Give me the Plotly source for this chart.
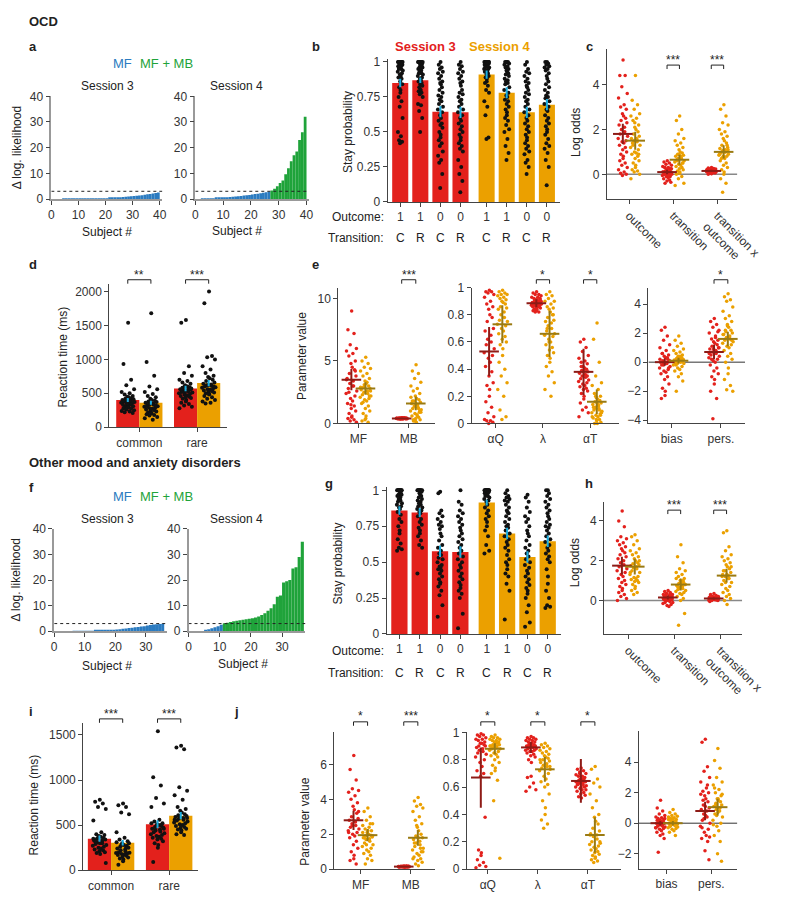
import plotly.graph_objects as go

W, H = 800, 910
RED = "#E3211C"; ORG = "#EBA000"; DRED = "#8E1B16"; DORG = "#9A7A12"
BLUE = "#2B7BC0"; GREEN = "#1FA33A"; CYAN = "#1AAEE0"
FONT = "Liberation Sans, Arial, sans-serif"
THRESH = 3

# ---------------- DATA ----------------
# a / f : delta log-likelihood per subject (sorted)
a_s3 = [0.0,0.0,0.0,0.0,0.01,0.01,0.02,0.02,0.03,0.03,0.04,0.05,0.05,0.06,0.07,0.08,0.1,0.12,0.15,0.2,
        0.25,0.3,0.38,0.45,0.55,0.65,0.75,0.85,0.95,1.05,1.15,1.25,1.4,1.5,1.65,1.8,1.95,2.1,2.3,2.5]
a_s4 = [0.0,0.0,0.02,0.05,0.1,0.15,0.2,0.3,0.4,0.5,0.6,0.7,0.8,0.9,1.0,1.1,1.2,1.35,1.5,1.6,
        1.75,1.9,2.05,2.2,2.4,2.6,2.85,3.3,4.0,5.0,6.2,7.2,9.6,12.0,14.7,17.0,18.5,23.0,26.0,32.0]
f_s3 = [0,0,0,0,0,0,0.01,0.02,0.03,0.05,0.07,0.1,0.13,0.17,0.2,0.25,0.3,0.4,0.5,0.6,0.7,0.8,0.95,
        1.1,1.25,1.4,1.55,1.7,1.85,2.0,2.2,2.4,2.6,2.75,2.85,2.95]
f_s4 = [0,0,0,0,0,0.3,0.8,1.2,1.6,2.0,2.5,3.1,3.3,3.6,3.9,4.1,4.3,4.5,4.7,4.9,5.1,5.4,5.8,6.3,7.0,
        8.0,9.0,10.5,13.5,14.0,19.0,19.5,20.0,24.5,25.0,29.0,35.0]

# b / g : stay probability
OUTCOME = [1, 1, 0, 0, 1, 1, 0, 0]
TRANSITION = ["C", "R", "C", "R", "C", "R", "C", "R"]
b_means = [0.85, 0.87, 0.645, 0.64, 0.91, 0.78, 0.64, 0.695]
b_se = [0.03, 0.02, 0.04, 0.04, 0.03, 0.04, 0.04, 0.04]
b_dots = [
    [1,1,1,1,1,1,1,1,1,1,0.99,0.99,0.98,0.98,0.97,0.97,0.96,0.95,0.95,0.94,0.93,0.92,0.91,0.9,0.89,0.88,0.86,0.84,0.82,0.8,0.78,0.75,0.72,0.68,0.6,0.5,0.47,0.44,0.43,0.42],
    [1,1,1,1,1,1,1,1,0.99,0.98,0.98,0.97,0.96,0.96,0.95,0.94,0.93,0.92,0.92,0.91,0.9,0.89,0.88,0.87,0.86,0.85,0.84,0.83,0.82,0.8,0.8,0.79,0.78,0.77,0.75,0.7,0.69,0.65,0.6,0.5],
    [1,0.98,0.96,0.95,0.93,0.92,0.9,0.88,0.86,0.85,0.84,0.82,0.8,0.78,0.76,0.75,0.73,0.72,0.7,0.68,0.66,0.64,0.62,0.6,0.58,0.56,0.55,0.53,0.5,0.48,0.46,0.44,0.42,0.4,0.36,0.33,0.3,0.28,0.2,0.1],
    [1,0.98,0.97,0.95,0.93,0.92,0.9,0.88,0.86,0.85,0.83,0.8,0.78,0.77,0.75,0.73,0.72,0.7,0.68,0.66,0.64,0.62,0.6,0.58,0.56,0.54,0.52,0.5,0.48,0.46,0.44,0.42,0.4,0.38,0.36,0.3,0.25,0.2,0.15,0.07],
    [1,1,1,1,1,1,1,1,1,1,1,1,0.99,0.99,0.98,0.98,0.97,0.97,0.96,0.96,0.95,0.95,0.94,0.93,0.93,0.92,0.91,0.9,0.89,0.88,0.86,0.85,0.83,0.8,0.78,0.72,0.68,0.62,0.46,0.45],
    [1,1,1,1,0.99,0.98,0.97,0.96,0.95,0.94,0.93,0.92,0.91,0.9,0.88,0.87,0.86,0.85,0.84,0.82,0.8,0.78,0.76,0.75,0.73,0.72,0.7,0.68,0.66,0.64,0.62,0.6,0.58,0.55,0.52,0.5,0.45,0.4,0.35,0.3],
    [1,0.98,0.95,0.93,0.92,0.9,0.88,0.86,0.85,0.83,0.82,0.8,0.78,0.77,0.75,0.73,0.72,0.7,0.68,0.66,0.64,0.62,0.6,0.58,0.56,0.54,0.52,0.5,0.48,0.46,0.44,0.42,0.4,0.38,0.36,0.34,0.3,0.28,0.25,0.2],
    [1,1,0.99,0.98,0.97,0.96,0.95,0.94,0.92,0.9,0.88,0.86,0.84,0.82,0.8,0.78,0.76,0.75,0.74,0.72,0.7,0.68,0.66,0.65,0.62,0.6,0.58,0.56,0.54,0.52,0.5,0.48,0.45,0.42,0.4,0.38,0.35,0.3,0.25,0.12],
]
g_means = [0.86, 0.845, 0.575, 0.57, 0.915, 0.70, 0.535, 0.645]
g_se = [0.03, 0.03, 0.04, 0.04, 0.02, 0.04, 0.04, 0.04]
g_dots = [
    [1,1,1,1,1,1,1,1,1,1,0.99,0.98,0.97,0.97,0.96,0.95,0.94,0.93,0.92,0.91,0.9,0.89,0.88,0.87,0.85,0.83,0.8,0.78,0.75,0.72,0.7,0.66,0.63,0.6,0.59,0.58],
    [1,1,1,1,1,1,1,1,0.99,0.98,0.97,0.96,0.95,0.94,0.93,0.92,0.91,0.9,0.89,0.88,0.87,0.86,0.85,0.84,0.82,0.8,0.78,0.76,0.74,0.72,0.7,0.68,0.65,0.62,0.6,0.42],
    [0.99,0.98,0.86,0.84,0.82,0.8,0.78,0.76,0.75,0.73,0.7,0.68,0.65,0.62,0.6,0.58,0.56,0.55,0.53,0.52,0.5,0.48,0.47,0.46,0.45,0.44,0.42,0.4,0.38,0.36,0.35,0.33,0.3,0.27,0.2,0.12],
    [1,0.92,0.9,0.86,0.84,0.82,0.8,0.78,0.76,0.74,0.72,0.7,0.68,0.66,0.64,0.62,0.6,0.58,0.56,0.54,0.52,0.5,0.48,0.46,0.44,0.42,0.4,0.38,0.36,0.34,0.32,0.3,0.28,0.25,0.14,0.04],
    [1,1,1,1,1,1,1,1,1,1,1,1,0.99,0.99,0.98,0.98,0.97,0.96,0.96,0.95,0.94,0.93,0.92,0.9,0.88,0.86,0.84,0.82,0.8,0.78,0.75,0.72,0.68,0.62,0.58,0.56],
    [1,0.98,0.96,0.95,0.94,0.93,0.92,0.9,0.88,0.86,0.85,0.84,0.82,0.8,0.78,0.76,0.75,0.74,0.72,0.7,0.68,0.66,0.64,0.62,0.6,0.58,0.55,0.52,0.5,0.48,0.45,0.42,0.4,0.35,0.3,0.1],
    [0.97,0.95,0.92,0.88,0.85,0.82,0.8,0.78,0.75,0.72,0.7,0.68,0.65,0.62,0.6,0.58,0.56,0.54,0.52,0.5,0.48,0.46,0.44,0.42,0.4,0.38,0.36,0.34,0.32,0.3,0.28,0.25,0.2,0.15,0.08,0.05],
    [1,1,0.98,0.96,0.94,0.92,0.9,0.88,0.86,0.84,0.82,0.8,0.78,0.76,0.75,0.74,0.72,0.7,0.68,0.66,0.64,0.62,0.6,0.58,0.56,0.54,0.52,0.5,0.45,0.4,0.35,0.3,0.25,0.2,0.19,0.18],
]

# c / h : log odds
LO_LABELS = ["outcome", "transition", "transition x<br>outcome"]
c_s3 = [
    [5.1,4.4,4.4,3.9,3.6,3.4,3.1,3.0,2.9,2.7,2.6,2.5,2.4,2.3,2.2,2.1,2.0,1.9,1.8,1.7,1.6,1.5,1.45,1.4,1.3,1.2,1.1,1.0,0.9,0.8,0.7,0.6,0.5,0.4,0.3,0.2,0.1,0.05,0.0,-0.05],
    [0.6,0.55,0.5,0.45,0.4,0.35,0.3,0.3,0.25,0.2,0.2,0.15,0.15,0.1,0.1,0.1,0.05,0.05,0.0,0.0,-0.05,-0.1,-0.1,-0.15,-0.2,-0.25,-0.3,-0.35,-0.4,0.2,0.1,0.0,0.15,0.05,0.25,0.1,-0.05,0.3,0.0,0.1],
    [0.3,0.28,0.26,0.25,0.24,0.22,0.2,0.2,0.19,0.18,0.18,0.17,0.16,0.16,0.15,0.15,0.14,0.14,0.13,0.12,0.12,0.11,0.1,0.1,0.09,0.08,0.07,0.06,0.05,0.04,0.02,0.0,0.15,0.2,0.1,0.18,0.12,0.16,0.14,0.22],
]
c_s4 = [
    [4.4,3.3,3.1,2.9,2.7,2.6,2.5,2.4,2.2,2.1,2.0,1.9,1.8,1.7,1.6,1.55,1.5,1.45,1.4,1.3,1.2,1.1,1.0,0.95,0.9,0.8,0.7,0.6,0.5,0.4,0.3,0.2,0.15,0.1,0.0,-0.2,1.6,1.3,0.9,2.3],
    [2.6,2.4,2.0,1.8,1.6,1.5,1.4,1.3,1.2,1.1,1.0,0.95,0.9,0.85,0.8,0.75,0.7,0.7,0.65,0.6,0.55,0.5,0.45,0.4,0.35,0.3,0.25,0.2,0.15,0.1,0.05,0.0,-0.1,-0.2,-0.4,-0.5,0.8,0.6,0.5,0.9],
    [3.1,2.9,2.6,2.3,2.2,2.0,1.9,1.8,1.7,1.6,1.5,1.4,1.3,1.2,1.15,1.1,1.05,1.0,0.95,0.9,0.85,0.8,0.75,0.7,0.6,0.5,0.4,0.3,0.2,0.1,0.0,-0.2,-0.4,-0.8,1.1,0.9,1.0,0.7,1.3,0.8],
]
c_m3 = [1.8, 0.1, 0.15]; c_e3 = [0.45, 0.1, 0.05]
c_m4 = [1.5, 0.65, 1.0]; c_e4 = [0.4, 0.22, 0.3]
h_s3 = [
    [4.5,4.0,3.7,3.2,3.1,3.0,2.9,2.8,2.7,2.6,2.5,2.4,2.3,2.2,2.1,2.0,1.9,1.8,1.7,1.6,1.5,1.4,1.3,1.2,1.1,1.0,0.9,0.8,0.7,0.6,0.5,0.4,0.3,0.2,0.1,0.0],
    [0.5,0.45,0.4,0.35,0.3,0.3,0.25,0.2,0.2,0.15,0.15,0.1,0.1,0.05,0.05,0.0,0.0,-0.05,-0.1,-0.1,-0.15,-0.2,-0.25,-0.3,0.2,0.1,0.15,0.25,0.3,0.05,0.1,0.2,0.35,0.0,0.15,0.1],
    [0.35,0.3,0.25,0.2,0.2,0.15,0.15,0.1,0.1,0.1,0.05,0.05,0.0,0.0,-0.05,0.1,0.15,0.2,0.05,0.1,0.0,0.15,0.1,0.05,0.2,0.1,0.12,0.08,0.18,0.06,0.1,0.14,0.02,0.1,0.16,0.04],
]
h_s4 = [
    [3.3,3.2,3.0,2.8,2.6,2.5,2.4,2.3,2.2,2.1,2.0,1.9,1.85,1.8,1.75,1.7,1.65,1.6,1.5,1.4,1.3,1.2,1.15,1.1,1.05,1.0,0.95,0.9,0.8,0.7,0.6,0.5,0.4,0.3,2.0,1.4],
    [2.8,2.2,1.9,1.6,1.5,1.4,1.3,1.2,1.1,1.0,0.95,0.9,0.85,0.8,0.75,0.7,0.65,0.6,0.55,0.5,0.45,0.4,0.35,0.3,0.2,0.1,0.0,-0.65,-1.25,0.8,0.9,0.7,1.0,0.6,0.8,1.1],
    [3.5,3.4,2.7,2.5,2.3,2.2,2.1,2.0,1.9,1.8,1.7,1.6,1.5,1.4,1.3,1.25,1.2,1.1,1.0,0.9,0.8,0.7,0.6,0.5,0.4,0.3,0.2,0.1,0.0,-0.2,1.3,1.5,1.1,0.9,1.7,1.2],
]
h_m3 = [1.75, 0.15, 0.1]; h_e3 = [0.45, 0.1, 0.05]
h_m4 = [1.7, 0.8, 1.25]; h_e4 = [0.4, 0.3, 0.35]

# d / i : reaction times
RT_LABELS = ["common", "rare"]
d_means = [400, 360, 570, 650]; d_se = [30, 30, 40, 45]
d_dots = [
    [1540,930,700,620,560,520,500,480,460,450,440,430,420,410,400,400,390,380,380,370,360,360,350,340,330,330,320,310,300,300,290,280,270,260,250,240,230,220,210,350],
    [1680,960,760,600,560,520,490,460,440,420,400,390,380,370,360,350,340,330,320,310,300,290,280,270,260,250,240,230,220,210,200,190,180,170,150,130,110,300,320,340],
    [1580,1540,900,800,760,700,680,660,640,620,600,590,580,570,560,550,540,530,520,510,500,490,480,470,460,450,440,430,420,400,380,360,340,320,300,280,600,580,560,520],
    [2000,1830,1050,1030,1000,900,850,800,760,740,720,700,680,660,640,630,620,610,600,590,580,570,560,550,540,530,520,510,500,490,480,460,440,420,400,380,360,350,600,620],
]
i_means = [350, 305, 510, 605]; i_se = [35, 30, 45, 40]
i_dots = [
    [780,760,740,700,680,550,420,400,390,380,370,360,350,340,330,320,310,300,290,280,270,260,250,240,230,220,210,200,190,180,300,320,340,360,80,350],
    [740,720,700,640,620,420,360,340,320,300,280,270,260,250,240,230,220,210,200,195,190,185,180,175,170,160,150,140,130,120,100,60,250,280,300,310],
    [1540,1030,940,800,740,700,560,540,520,510,500,490,480,470,460,450,440,430,420,410,400,390,380,370,360,350,340,320,300,280,250,90,500,480,460,520],
    [1380,1360,1340,920,880,830,780,700,680,660,640,620,610,600,590,580,570,560,550,540,530,520,510,500,490,480,470,460,450,440,420,400,390,600,580,560],
]

# e / j : model parameters
P1_LABELS = ["MF", "MB"]
P2_LABELS = ["αQ", "λ", "αT"]
P3_LABELS = ["bias", "pers."]
e_MF_s3 = [9.0,7.5,7.2,6.3,6.0,5.8,5.6,5.4,5.0,4.8,4.5,4.3,4.0,3.8,3.6,3.4,3.2,3.0,2.8,2.6,2.4,2.2,2.0,1.8,1.6,1.4,1.2,1.0,0.8,0.6,0.5,0.4,0.3,0.2,0.1,3.5,3.0,2.5,4.2,1.5]
e_MF_s4 = [5.3,5.0,4.8,4.5,4.4,4.2,4.0,3.8,3.6,3.4,3.2,3.0,2.9,2.8,2.7,2.6,2.5,2.4,2.3,2.2,2.1,2.0,1.9,1.8,1.6,1.4,1.2,1.0,0.8,0.6,0.4,0.2,0.1,3.1,2.6,2.9,3.3,1.7,2.2,0.3]
e_MB_s3 = [0.45,0.42,0.4,0.38,0.41,0.39,0.43,0.37,0.4,0.44,0.36,0.41,0.38,0.42,0.4,0.39,0.43,0.41,0.4,0.38,0.42,0.4,0.39,0.41,0.37,0.43,0.4,0.38,0.42,0.41,0.39,0.4,0.44,0.36,0.4,0.41,0.38,0.42,0.39,0.4]
e_MB_s4 = [4.7,4.2,4.0,3.6,3.3,3.0,2.8,2.6,2.4,2.2,2.0,1.9,1.8,1.7,1.6,1.5,1.4,1.3,1.2,1.1,1.0,0.9,0.8,0.7,0.6,0.5,0.4,0.3,0.2,0.1,1.6,1.8,1.2,1.4,0.9,2.1,0.6,0.3,1.0,0.2]
e_aQ_s3 = [0.98,0.97,0.97,0.96,0.95,0.93,0.9,0.88,0.86,0.84,0.8,0.78,0.75,0.7,0.68,0.65,0.62,0.6,0.58,0.55,0.52,0.5,0.48,0.45,0.42,0.38,0.35,0.3,0.28,0.25,0.2,0.16,0.12,0.08,0.05,0.03,0.02,0.02,0.01,0.0]
e_aQ_s4 = [0.98,0.97,0.96,0.95,0.95,0.94,0.93,0.92,0.91,0.9,0.89,0.88,0.86,0.85,0.84,0.82,0.8,0.78,0.76,0.75,0.73,0.72,0.7,0.68,0.66,0.64,0.62,0.6,0.58,0.55,0.5,0.45,0.4,0.35,0.3,0.25,0.2,0.1,0.05,0.03]
e_lam_s3 = [0.97,0.96,0.95,0.95,0.94,0.93,0.93,0.92,0.92,0.91,0.91,0.9,0.9,0.9,0.89,0.89,0.89,0.88,0.88,0.88,0.87,0.87,0.87,0.86,0.86,0.86,0.85,0.85,0.84,0.84,0.83,0.83,0.82,0.82,0.9,0.88,0.89,0.87,0.91,0.86]
e_lam_s4 = [0.97,0.95,0.94,0.92,0.9,0.9,0.88,0.86,0.85,0.84,0.82,0.8,0.78,0.76,0.75,0.74,0.72,0.7,0.68,0.66,0.65,0.64,0.62,0.6,0.58,0.56,0.54,0.52,0.5,0.48,0.45,0.42,0.38,0.35,0.3,0.25,0.2,0.7,0.8,0.6]
e_aT_s3 = [0.62,0.6,0.56,0.53,0.5,0.48,0.46,0.45,0.44,0.42,0.41,0.4,0.39,0.38,0.37,0.36,0.35,0.34,0.33,0.32,0.31,0.3,0.29,0.28,0.27,0.26,0.25,0.24,0.22,0.2,0.18,0.15,0.12,0.1,0.08,0.05,0.4,0.42,0.35,0.38]
e_aT_s4 = [0.74,0.62,0.45,0.35,0.3,0.28,0.25,0.22,0.2,0.19,0.18,0.17,0.16,0.15,0.14,0.13,0.12,0.11,0.1,0.09,0.08,0.07,0.06,0.05,0.04,0.03,0.02,0.01,0.0,0.0,0.15,0.12,0.1,0.2,0.08,0.05,0.14,0.11,0.06,0.03]
e_bias_s3 = [2.4,2.2,1.8,1.5,1.2,1.0,0.8,0.6,0.5,0.4,0.3,0.2,0.1,0.05,0.0,0.0,-0.05,-0.1,-0.2,-0.3,-0.4,-0.5,-0.6,-0.7,-0.8,-1.0,-1.2,-1.5,-1.8,-2.0,-2.3,-2.5,0.3,-0.2,0.1,0.2,-0.1,0.6,-0.4,0.0]
e_bias_s4 = [1.8,1.5,1.3,1.1,0.9,0.8,0.7,0.6,0.5,0.4,0.35,0.3,0.25,0.2,0.15,0.1,0.05,0.0,-0.05,-0.1,-0.2,-0.3,-0.4,-0.5,-0.6,-0.8,-1.0,-1.3,-2.0,0.1,0.2,0.0,0.3,-0.1,0.15,0.05,0.4,-0.2,0.1,0.25]
e_pers_s3 = [3.0,2.8,2.6,2.4,2.2,2.0,1.8,1.6,1.5,1.4,1.3,1.2,1.1,1.0,0.9,0.8,0.7,0.6,0.5,0.4,0.3,0.2,0.1,0.0,-0.2,-0.4,-0.6,-0.8,-1.0,-1.2,-1.5,-2.0,-2.5,-3.9,1.0,0.6,1.7,0.2,2.1,0.9]
e_pers_s4 = [4.7,4.5,4.3,4.2,3.8,3.5,3.2,3.0,2.8,2.6,2.4,2.2,2.1,2.0,1.9,1.8,1.7,1.6,1.5,1.4,1.3,1.2,1.1,1.0,0.8,0.6,0.4,0.2,0.0,-0.4,-0.8,-1.2,-1.6,-1.9,-2.0,1.9,1.7,2.2,1.5,2.5]
e1_m3 = [3.5, 0.4]; e1_e3 = [0.85, 0.05]; e1_m4 = [2.8, 1.6]; e1_e4 = [0.5, 0.55]
e2_m3 = [0.53, 0.885, 0.38]; e2_e3 = [0.18, 0.03, 0.17]; e2_m4 = [0.73, 0.66, 0.16]; e2_e4 = [0.14, 0.17, 0.09]
e3_m3 = [0.0, 0.7]; e3_e3 = [0.25, 0.5]; e3_m4 = [0.1, 1.6]; e3_e4 = [0.2, 0.5]

j_MF_s3 = [6.5,5.7,5.1,4.6,4.5,4.4,4.2,4.0,3.8,3.6,3.4,3.2,3.0,2.9,2.8,2.7,2.6,2.5,2.4,2.3,2.2,2.1,2.0,1.9,1.8,1.6,1.4,1.2,1.0,0.8,0.6,0.5,0.3,2.5,3.3,2.1]
j_MF_s4 = [3.5,3.3,3.0,2.8,2.6,2.5,2.4,2.3,2.2,2.1,2.0,1.95,1.9,1.85,1.8,1.75,1.7,1.6,1.5,1.4,1.3,1.2,1.1,1.0,0.9,0.8,0.6,0.5,0.3,2.0,2.2,1.8,2.6,1.4,1.9,2.1]
j_MB_s3 = [0.18,0.16,0.15,0.14,0.17,0.13,0.15,0.16,0.14,0.15,0.12,0.18,0.15,0.16,0.14,0.13,0.17,0.15,0.16,0.14,0.15,0.13,0.16,0.17,0.14,0.15,0.16,0.15,0.14,0.13,0.15,0.16,0.17,0.14,0.15,0.16]
j_MB_s4 = [4.1,3.9,3.7,3.6,3.5,3.3,3.0,2.8,2.6,2.4,2.2,2.0,1.9,1.8,1.7,1.6,1.5,1.4,1.3,1.2,1.1,1.0,0.9,0.8,0.7,0.6,0.5,0.4,0.3,0.2,1.8,1.5,1.2,2.5,1.0,0.6]
j_aQ_s3 = [0.99,0.98,0.98,0.97,0.96,0.95,0.95,0.94,0.93,0.92,0.92,0.91,0.9,0.9,0.89,0.88,0.87,0.86,0.85,0.84,0.82,0.8,0.78,0.75,0.72,0.7,0.68,0.38,0.14,0.12,0.1,0.07,0.05,0.03,0.02,0.01]
j_aQ_s4 = [0.98,0.97,0.96,0.96,0.95,0.95,0.94,0.94,0.93,0.93,0.92,0.92,0.91,0.91,0.9,0.9,0.89,0.89,0.88,0.88,0.87,0.86,0.85,0.84,0.83,0.82,0.8,0.78,0.76,0.74,0.72,0.7,0.65,0.5,0.08,0.9]
j_lam_s3 = [0.97,0.96,0.96,0.95,0.95,0.94,0.94,0.93,0.93,0.92,0.92,0.91,0.91,0.9,0.9,0.9,0.89,0.89,0.88,0.88,0.87,0.87,0.86,0.86,0.85,0.84,0.83,0.82,0.8,0.78,0.68,0.67,0.63,0.6,0.58,0.57]
j_lam_s4 = [0.92,0.91,0.9,0.89,0.88,0.87,0.86,0.85,0.84,0.83,0.82,0.81,0.8,0.79,0.78,0.77,0.76,0.75,0.74,0.73,0.72,0.7,0.68,0.66,0.64,0.62,0.6,0.55,0.5,0.45,0.4,0.36,0.33,0.3,0.75,0.8]
j_aT_s3 = [0.74,0.73,0.72,0.71,0.7,0.69,0.68,0.68,0.67,0.66,0.66,0.65,0.65,0.64,0.64,0.63,0.63,0.62,0.62,0.61,0.6,0.6,0.59,0.58,0.57,0.56,0.55,0.54,0.53,0.52,0.6,0.62,0.66,0.7,0.58,0.64]
j_aT_s4 = [0.75,0.73,0.66,0.63,0.6,0.55,0.5,0.45,0.4,0.38,0.35,0.33,0.3,0.28,0.26,0.25,0.24,0.22,0.2,0.19,0.18,0.17,0.16,0.15,0.14,0.13,0.12,0.11,0.1,0.09,0.08,0.07,0.06,0.05,0.2,0.25]
j_bias_s3 = [1.5,1.0,0.8,0.6,0.5,0.4,0.35,0.3,0.25,0.2,0.15,0.1,0.05,0.0,0.0,-0.05,-0.1,-0.15,-0.2,-0.25,-0.3,-0.35,-0.4,-0.5,-0.6,-0.7,-0.8,-1.0,-1.9,0.1,-0.1,0.2,-0.2,0.0,0.3,-0.3]
j_bias_s4 = [0.9,0.7,0.6,0.5,0.45,0.4,0.35,0.3,0.25,0.2,0.15,0.1,0.05,0.0,0.0,-0.05,-0.1,-0.15,-0.2,-0.25,-0.3,-0.35,-0.4,-0.5,-0.6,-0.8,0.1,-0.1,0.2,0.0,0.3,-0.2,0.05,0.15,-0.05,0.25]
j_pers_s3 = [5.5,5.3,3.7,3.4,3.0,2.7,2.3,2.1,2.0,1.8,1.6,1.4,1.2,1.0,0.9,0.8,0.6,0.4,0.2,0.0,-0.2,-0.4,-0.6,-0.8,-1.0,-1.2,-1.8,-2.4,1.5,0.5,1.1,-0.3,2.5,0.3,-0.9,1.9]
j_pers_s4 = [4.9,4.1,3.6,3.0,2.7,2.5,2.2,2.0,1.8,1.6,1.5,1.4,1.3,1.2,1.1,1.0,0.9,0.8,0.6,0.4,0.2,0.0,-0.2,-0.5,-0.8,-1.2,-2.0,-2.5,1.2,1.6,0.7,2.3,1.0,0.5,1.9,-0.1]
j1_m3 = [2.8, 0.15]; j1_e3 = [0.55, 0.02]; j1_m4 = [1.95, 1.8]; j1_e4 = [0.35, 0.45]
j2_m3 = [0.67, 0.89, 0.645]; j2_e3 = [0.22, 0.04, 0.16]; j2_m4 = [0.88, 0.73, 0.25]; j2_e4 = [0.04, 0.09, 0.13]
j3_m3 = [0.0, 0.8]; j3_e3 = [0.15, 0.6]; j3_m4 = [0.0, 1.05]; j3_e4 = [0.15, 0.55]

# ---------------- HELPERS ----------------
fig = go.Figure()
lay = {}
annots = []
shapes = []
count = [0]
JIT = [0.05,-0.62,0.48,-0.21,0.91,-0.88,0.27,-0.45,0.71,-0.08,0.15,0.58,-0.36,0.83,-0.77,
       0.35,-0.28,0.4,-0.55,0.98,-0.95,0.64,-0.15,0.22,-0.69,0.52,-0.02,0.78,-0.41,0.1]


def X(px):
    return px / W


def Y(py):
    return 1 - py / H


def axes(x0, x1, ytop, ybot, xr, yr, xkw=None, ykw=None):
    count[0] += 1
    n = count[0]
    s = '' if n == 1 else str(n)
    base = dict(showline=True, linecolor='#444', linewidth=1, ticks='outside', ticklen=4,
                tickcolor='#444', showgrid=False, zeroline=False,
                tickfont=dict(size=12, color='#333', family=FONT), fixedrange=True)
    xa = dict(base, domain=[X(x0), X(x1)], range=xr, anchor='y' + s)
    ya = dict(base, domain=[Y(ybot), Y(ytop)], range=yr, anchor='x' + s)
    if xkw:
        xa.update(xkw)
    if ykw:
        ya.update(ykw)
    lay['xaxis' + s] = xa
    lay['yaxis' + s] = ya
    return 'x' + s, 'y' + s


def ann(x, y, text, size=12, color='#222', bold=False, xanchor='center', angle=0, xref='paper'):
    t = '<b>%s</b>' % text if bold else text
    annots.append(dict(x=x if xref != 'paper' else X(x), y=Y(y), xref=xref, yref='paper', text=t,
                       showarrow=False, xanchor=xanchor, yanchor='middle', textangle=angle,
                       font=dict(size=size, color=color, family=FONT)))


def dots(xa, ya, center, vals, color, spread, size):
    xs = [center + spread * JIT[i % len(JIT)] for i in range(len(vals))]
    fig.add_trace(go.Scatter(x=xs, y=vals, mode='markers',
                             marker=dict(color=color, size=size, line=dict(width=0)),
                             xaxis=xa, yaxis=ya, showlegend=False, hoverinfo='skip', cliponaxis=False))


def cross(xa, ya, x, m, e, color):
    fig.add_trace(go.Scatter(x=[x], y=[m], mode='markers',
                             marker=dict(symbol='line-ew', size=14, color=color, line=dict(color=color, width=2)),
                             error_y=dict(type='data', array=[e], color=color, thickness=2, width=0),
                             xaxis=xa, yaxis=ya, showlegend=False, hoverinfo='skip', cliponaxis=False))


def stars(xa, xl, xr, text, ystar, ytop, ybot):
    annots.append(dict(x=(xl + xr) / 2, y=Y(ystar), xref=xa, yref='paper', text=text, showarrow=False,
                       xanchor='center', yanchor='middle',
                       font=dict(size=12, color='#222', family=FONT)))
    shapes.append(dict(type='path', xref=xa, yref='paper',
                       path='M %f,%f L %f,%f L %f,%f L %f,%f' % (xl, Y(ybot), xl, Y(ytop), xr, Y(ytop), xr, Y(ybot)),
                       line=dict(color='#222', width=1)))


def hline(xa, ya, xr, y, color, width):
    fig.add_trace(go.Scatter(x=xr, y=[y, y], mode='lines', line=dict(color=color, width=width),
                             xaxis=xa, yaxis=ya, showlegend=False, hoverinfo='skip'))


def dll_panel(x0, x1, ytop, ybot, vals, xmax):
    gk = dict(linecolor='#999', linewidth=1.5)
    xa, ya = axes(x0, x1, ytop, ybot, [0, xmax], [0, 40],
                  dict(gk, tickvals=[0, 10, 20, 30, 40] if xmax > 40 else [0, 10, 20, 30]),
                  dict(gk, tickvals=[0, 10, 20, 30, 40]))
    xs = [i + 0.5 for i in range(len(vals))]
    cols = [GREEN if v > THRESH else BLUE for v in vals]
    fig.add_trace(go.Bar(x=xs, y=vals, width=1, marker=dict(color=cols, line=dict(width=0)),
                         xaxis=xa, yaxis=ya, showlegend=False, hoverinfo='skip'))
    fig.add_trace(go.Scatter(x=[0, xmax], y=[THRESH, THRESH], mode='lines',
                             line=dict(color='#222', width=1, dash='dot'),
                             xaxis=xa, yaxis=ya, showlegend=False, hoverinfo='skip'))


def stay_panel(x0, x1, ytop, ybot, means, ses, dts, y_out, y_tr):
    pos = [0, 1, 2, 3, 4.3, 5.3, 6.3, 7.3]
    xa, ya = axes(x0, x1, ytop, ybot, [-0.63, 7.93], [0, 1.02],
                  dict(tickvals=pos, ticktext=[str(o) for o in OUTCOME]),
                  dict(tickvals=[0, 0.25, 0.5, 0.75, 1], ticktext=['0', '0.25', '0.5', '0.75', '1']))
    fig.add_trace(go.Bar(x=pos, y=means, width=0.8, marker=dict(color=[RED] * 4 + [ORG] * 4, line=dict(width=0)),
                         xaxis=xa, yaxis=ya, showlegend=False, hoverinfo='skip'))
    for p, d in zip(pos, dts):
        dots(xa, ya, p, d, '#111', 0.13, 4)
    fig.add_trace(go.Scatter(x=pos, y=means, mode='markers', marker=dict(size=1, color='rgba(0,0,0,0)'),
                             error_y=dict(type='data', array=ses, color=CYAN, thickness=2, width=0),
                             xaxis=xa, yaxis=ya, showlegend=False, hoverinfo='skip'))
    ann(396, y_out, 'Outcome:', xanchor='right')
    ann(396, y_tr, 'Transition:', xanchor='right')
    for p, t in zip(pos, TRANSITION):
        ann(p, y_tr, t, xref=xa)


def strip_panel(box, xr, yr, ykw, labels, s3, s4, m3, e3, m4, e4, zline=None, star_list=(), sy=None, xkw=None):
    x0, x1, yt, yb = box
    kx = dict(tickvals=list(range(len(labels))), ticktext=labels)
    if xkw:
        kx.update(xkw)
    xa, ya = axes(x0, x1, yt, yb, xr, yr, kx, ykw)
    if zline:
        hline(xa, ya, xr, 0, zline[0], zline[1])
    OFF, SPR = 0.14, 0.11
    for k in range(len(labels)):
        dots(xa, ya, k - OFF, s3[k], RED, SPR, 3.5)
        dots(xa, ya, k + OFF, s4[k], ORG, SPR, 3.5)
    for k in range(len(labels)):
        cross(xa, ya, k - OFF, m3[k], e3[k], DRED)
        cross(xa, ya, k + OFF, m4[k], e4[k], DORG)
    for k, t in star_list:
        stars(xa, k - OFF, k + OFF, t, *sy)
    return xa, ya


def rt_panel(x0, x1, ytop, ybot, yr, yticks, means, ses, dts, xr, star_list, sy):
    pos = [0, 1, 2.5, 3.5]
    xa, ya = axes(x0, x1, ytop, ybot, xr, yr,
                  dict(tickvals=[0.5, 3.0], ticktext=RT_LABELS), dict(tickvals=yticks))
    fig.add_trace(go.Bar(x=pos, y=means, width=1, marker=dict(color=[RED, ORG, RED, ORG], line=dict(width=0)),
                         xaxis=xa, yaxis=ya, showlegend=False, hoverinfo='skip'))
    for p, d in zip(pos, dts):
        dots(xa, ya, p, d, '#111', 0.3, 4)
    fig.add_trace(go.Scatter(x=pos, y=means, mode='markers', marker=dict(size=1, color='rgba(0,0,0,0)'),
                             error_y=dict(type='data', array=ses, color=CYAN, thickness=2, width=0),
                             xaxis=xa, yaxis=ya, showlegend=False, hoverinfo='skip'))
    for (l, r, t) in star_list:
        stars(xa, l, r, t, *sy)


# ---------------- OCD ----------------
ann(25, 15, 'OCD', size=13, bold=True, xanchor='left')
ann(25, 40, 'a', size=13, bold=True, xanchor='left')
ann(112, 57, 'MF', size=13, color=BLUE, xanchor='left')
ann(140, 57, 'MF + MB', size=13, color=GREEN, xanchor='left')
ann(108, 80, 'Session 3', size=12)
ann(242, 80, 'Session 4', size=12)
dll_panel(50, 165, 90.7, 195, a_s3, 41)
dll_panel(199, 317, 90.7, 195, a_s4, 41)
ann(108, 229, 'Subject #')
ann(242, 227, 'Subject #')
ann(14, 143, 'Δ log. likelihood', angle=-90)

ann(318, 40, 'b', size=13, bold=True, xanchor='left')
ann(437, 40, 'Session 3', size=13, bold=True, color=RED)
ann(514, 40, 'Session 4', size=13, bold=True, color=ORG)
stay_panel(398, 576, 53, 198, b_means, b_se, b_dots, 213, 235)
ann(357, 127, 'Stay probability', angle=-90)

ann(601, 40, 'c', size=13, bold=True, xanchor='left')
strip_panel((625, 760, 43, 195), [-0.5, 2.45], [-1.1, 5.57], dict(tickvals=[0, 2, 4]),
            LO_LABELS, c_s3, c_s4, c_m3, c_e3, c_m4, c_e4, zline=('#888', 1.5),
            star_list=[(1, '***'), (2, '***')], sy=(54, 59, 63), xkw=dict(tickangle=45))
ann(593, 127, 'Log odds', angle=-90)

ann(25, 262, 'd', size=13, bold=True, xanchor='left')
rt_panel(110, 232, 281.7, 426.7, [0, 2107], [0, 500, 1000, 1500, 2000], d_means, d_se, d_dots,
         [-0.8, 4.3], [(0, 1, '**'), (2.5, 3.5, '***')], (272, 277, 281))
ann(62, 355, 'Reaction time (ms)', angle=-90)

ann(318, 262, 'e', size=13, bold=True, xanchor='left')
strip_panel((347, 447, 285, 423), [-0.4, 1.52], [0, 10.87], dict(tickvals=[0, 5, 10]),
            P1_LABELS, [e_MF_s3, e_MB_s3], [e_MF_s4, e_MB_s4], e1_m3, e1_e3, e1_m4, e1_e4,
            star_list=[(1, '***')], sy=(272, 277, 281))
strip_panel((485, 637, 285, 423), [-0.51, 2.6], [0, 1],
            dict(tickvals=[0, 0.2, 0.4, 0.6, 0.8, 1], ticktext=['0', '0.2', '0.4', '0.6', '0.8', '1']),
            P2_LABELS, [e_aQ_s3, e_lam_s3, e_aT_s3], [e_aQ_s4, e_lam_s4, e_aT_s4], e2_m3, e2_e3, e2_m4, e2_e4,
            star_list=[(1, '*'), (2, '*')], sy=(272, 277, 281))
strip_panel((668, 768, 285, 423), [-0.47, 1.49], [-4.22, 5.13], dict(tickvals=[-4, -2, 0, 2, 4]),
            P3_LABELS, [e_bias_s3, e_pers_s3], [e_bias_s4, e_pers_s4], e3_m3, e3_e3, e3_m4, e3_e4,
            zline=('#333', 1), star_list=[(1, '*')], sy=(272, 277, 281))
ann(309, 355, 'Parameter value', angle=-90)

# ---------------- OTHER ----------------
ann(25, 463, 'Other mood and anxiety disorders', size=13, bold=True, xanchor='left')
ann(25, 488, 'f', size=13, bold=True, xanchor='left')
ann(112, 497, 'MF', size=13, color=BLUE, xanchor='left')
ann(140, 497, 'MF + MB', size=13, color=GREEN, xanchor='left')
ann(108, 520, 'Session 3', size=12)
ann(242, 520, 'Session 4', size=12)
dll_panel(53, 170, 530, 634, f_s3, 37)
dll_panel(192, 313, 530, 634, f_s4, 37.5)
ann(108, 669, 'Subject #')
ann(248, 667, 'Subject #')
ann(14, 582, 'Δ log. likelihood', angle=-90)

ann(331, 484, 'g', size=13, bold=True, xanchor='left')
stay_panel(397, 577, 488, 636.7, g_means, g_se, g_dots, 654, 676)
ann(347, 565, 'Stay probability', angle=-90)

ann(600, 484, 'h', size=13, bold=True, xanchor='left')
strip_panel((622, 765, 502.7, 636.7), [-0.53, 2.48], [-1.68, 4.95], dict(tickvals=[0, 2, 4]),
            LO_LABELS, h_s3, h_s4, h_m3, h_e3, h_m4, h_e4, zline=('#888', 1.5),
            star_list=[(1, '***'), (2, '***')], sy=(506, 511, 515), xkw=dict(tickangle=45))
ann(592, 565, 'Log odds', angle=-90)

ann(25, 715, 'i', size=13, bold=True, xanchor='left')
rt_panel(83, 202, 727, 876.7, [0, 1634], [0, 500, 1000, 1500], i_means, i_se, i_dots,
         [-0.7, 4.25], [(0, 1, '***'), (2.5, 3.5, '***')], (718, 723, 727))
ann(32, 810, 'Reaction time (ms)', angle=-90)

ann(237, 715, 'j', size=13, bold=True, xanchor='left')
strip_panel((343, 447, 736.7, 875.7), [-0.52, 1.48], [0, 7.83], dict(tickvals=[0, 2, 4, 6]),
            P1_LABELS, [j_MF_s3, j_MB_s3], [j_MF_s4, j_MB_s4], j1_m3, j1_e3, j1_m4, j1_e4,
            star_list=[(0, '*'), (1, '***')], sy=(720, 726, 730))
strip_panel((480, 640, 736.7, 875.7), [-0.42, 2.67], [0, 1],
            dict(tickvals=[0, 0.2, 0.4, 0.6, 0.8, 1], ticktext=['0', '0.2', '0.4', '0.6', '0.8', '1']),
            P2_LABELS, [j_aQ_s3, j_lam_s3, j_aT_s3], [j_aQ_s4, j_lam_s4, j_aT_s4], j2_m3, j2_e3, j2_m4, j2_e4,
            star_list=[(0, '*'), (1, '*'), (2, '*')], sy=(720, 726, 730))
strip_panel((658, 760, 735, 875), [-0.62, 1.58], [-2.97, 6.06], dict(tickvals=[-2, 0, 2, 4]),
            P3_LABELS, [j_bias_s3, j_pers_s3], [j_bias_s4, j_pers_s4], j3_m3, j3_e3, j3_m4, j3_e4,
            zline=('#333', 1))
ann(313, 827, 'Parameter value', angle=-90)

fig.update_layout(**lay)
fig.update_layout(width=W, height=H, margin=dict(l=0, r=0, t=0, b=0), autosize=False,
                  paper_bgcolor='white', plot_bgcolor='white', showlegend=False,
                  font=dict(family=FONT, size=12, color='#222'),
                  annotations=annots, shapes=shapes, barmode='overlay')
fig.write_html("out.html", config={'displayModeBar': False},
               post_script="document.body.style.margin='0';")
